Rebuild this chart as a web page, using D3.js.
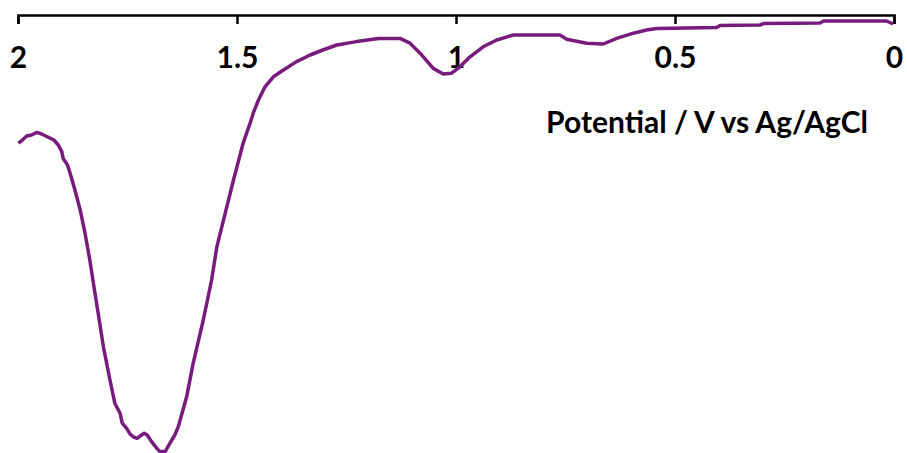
<!DOCTYPE html>
<html>
<head>
<meta charset="utf-8">
<script src="https://cdn.jsdelivr.net/npm/d3@7"></script>
<style>
  body{margin:0;background:#fff;}
  svg text{font-family:Lato, "Open Sans", sans-serif;font-weight:bold;fill:#000;}
</style>
</head>
<body>
<svg id="main"></svg>
<script>
//--------data----------
// potential (V vs Ag/AgCl), scan drawn with 2 V on the left
let potential = [1.999,1.992,1.980,1.969,1.957,1.946,1.931,1.918,1.908,1.900,1.897,1.887,1.881,1.870,1.858,1.847,1.836,1.826,1.817,1.805,1.790,1.779,1.767,1.762,1.752,1.744,1.737,1.728,1.721,1.712,1.705,1.695,1.683,1.676,1.664,1.653,1.642,1.634,1.615,1.600,1.577,1.558,1.546,1.508,1.501,1.486,1.470,1.463,1.451,1.436,1.417,1.394,1.364,1.333,1.304,1.272,1.227,1.177,1.128,1.105,1.082,1.052,1.029,1.010,0.991,0.968,0.938,0.907,0.869,0.763,0.747,0.702,0.664,0.633,0.595,0.565,0.542,0.405,0.397,0.306,0.298,0.169,0.161,0.017,0.002];
// current, arbitrary units (no y axis in the figure)
let current = [-30.8,-30.2,-29.0,-28.75,-28.1,-28.5,-29.3,-30.0,-31.25,-32.9,-34.6,-36.25,-38.3,-42.5,-47.5,-53.3,-60,-67.1,-73.3,-81.7,-90,-95.8,-98.3,-100.8,-102.1,-103.5,-104.2,-104.6,-104.0,-103.3,-103.75,-105.4,-107.1,-107.9,-107.9,-105.8,-103.75,-101.7,-94.2,-85.8,-75,-65,-56.7,-40,-37.1,-30.8,-25.8,-23.3,-20,-16.7,-14.2,-12.5,-10.4,-8.75,-7.5,-6.25,-5.4,-4.6,-4.6,-5.8,-8.3,-12.1,-13.5,-13.3,-11.7,-9.2,-6.7,-5,-3.75,-3.75,-4.8,-5.8,-6,-4.6,-3.3,-2.5,-2.1,-1.9,-1.4,-1.25,-0.9,-0.75,-0.25,-0.25,-1.0];
let xTicks = [2, 1.5, 1, 0.5, 0];
let xTitle = 'Potential / V vs Ag/AgCl';

//--------code----------
let width = 907, height = 453;
let svg = d3.select('#main')
  .attr('width', width)
  .attr('height', height);

let sx = d3.scaleLinear().domain([2, 0]).range([18, 894]);
let sy = d3.scaleLinear().domain([-108, 0]).range([452, 20]);

let ax = d3.axisBottom(sx)
  .tickValues(xTicks)
  .tickFormat(d=>d3.format('')(d))
  .tickSize(9)
  .tickSizeOuter(9);

let gx = svg.append('g')
  .attr('transform', 'translate(0,15)')
  .call(ax);
gx.selectAll('path, line')
  .attr('stroke', '#000')
  .attr('stroke-width', 2.5);
gx.selectAll('text')
  .attr('y', 53)
  .attr('dy', 0)
  .style('font-size', '30px')
  .attr('fill', '#000');

svg.append('text')
  .attr('x', 868)
  .attr('y', 133)
  .attr('text-anchor', 'end')
  .style('font-size', '30px')
  .text(xTitle);

let points = potential.map((v,i)=>[v, current[i]]);
let line = d3.line()
  .x(d=>sx(d[0]))
  .y(d=>sy(d[1]));

svg.append('path')
  .datum(points)
  .attr('d', line)
  .attr('fill', 'none')
  .attr('stroke', '#771c7c')
  .attr('stroke-width', 3.5)
  .attr('stroke-linejoin', 'round');
</script>
</body>
</html>
